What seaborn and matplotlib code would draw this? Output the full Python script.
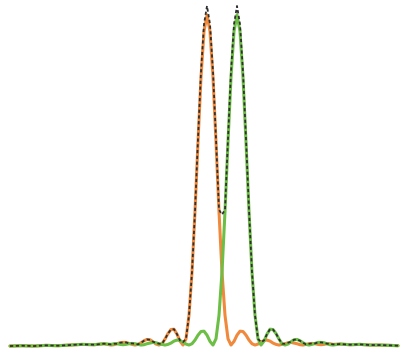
import numpy as np
import pandas as pd
import matplotlib
matplotlib.use("Agg")
import matplotlib.pyplot as plt
import seaborn as sns

# position along the scan (arbitrary units), shared by all three curves
x_left = [10, 22, 34, 46, 58, 70, 82, 94, 104]
x_mid = list(range(111, 334, 3))
x_right = [340, 350, 360, 370, 380, 390, 398]

# outer tails (same for every curve)
tail_left = [-0.003, -0.002, -0.003, -0.001, -0.002, 0.000, 0.002, 0.001, 0.004]
tail_right = [0.003, 0.001, 0.002, 0.000, 0.000, -0.001, -0.002]

# first peak (orange)
peak_a = [
    0.000, 0.001, 0.004, 0.007, 0.008, 0.008, 0.005, 0.002, 0.000, 0.002,
    0.007, 0.013, 0.017, 0.016, 0.010, 0.003, 0.000, 0.004, 0.018, 0.035,
    0.047, 0.048, 0.033, 0.012, 0.000, 0.019, 0.090, 0.221, 0.405, 0.615,
    0.811, 0.950, 1.000, 0.950, 0.811, 0.615, 0.405, 0.221, 0.090, 0.019,
    0.000, 0.011, 0.030, 0.042, 0.041, 0.030, 0.015, 0.004, 0.000, 0.003,
    0.009, 0.014, 0.015, 0.012, 0.006, 0.002, 0.000, 0.002, 0.004, 0.007,
    0.008, 0.006, 0.004, 0.001, 0.000, 0.002, 0.004, 0.005, 0.004, 0.002,
    0.001, 0.002, 0.004, 0.004, 0.002,
]

# second peak (green)
peak_b = [
    0.002, 0.004, 0.004, 0.002, 0.001, 0.002, 0.004, 0.005, 0.004, 0.002,
    0.000, 0.001, 0.004, 0.006, 0.008, 0.007, 0.004, 0.002, 0.000, 0.002,
    0.006, 0.012, 0.015, 0.014, 0.009, 0.003, 0.000, 0.004, 0.015, 0.030,
    0.041, 0.042, 0.030, 0.011, 0.000, 0.019, 0.090, 0.221, 0.405, 0.615,
    0.811, 0.950, 1.000, 0.950, 0.811, 0.615, 0.405, 0.221, 0.090, 0.019,
    0.000, 0.012, 0.033, 0.048, 0.047, 0.035, 0.018, 0.004, 0.000, 0.003,
    0.010, 0.016, 0.017, 0.013, 0.007, 0.002, 0.000, 0.002, 0.005, 0.008,
    0.008, 0.007, 0.004, 0.001, 0.000,
]

# fitted envelope (black dashed)
fit = [
    0.002, 0.004, 0.004, 0.007, 0.008, 0.008, 0.005, 0.005, 0.004, 0.002,
    0.007, 0.013, 0.017, 0.016, 0.010, 0.007, 0.004, 0.004, 0.018, 0.035,
    0.047, 0.048, 0.033, 0.014, 0.009, 0.019, 0.090, 0.221, 0.405, 0.625,
    0.828, 0.972, 1.027, 0.972, 0.828, 0.625, 0.410, 0.395, 0.410, 0.625,
    0.828, 0.972, 1.027, 0.972, 0.828, 0.625, 0.410, 0.221, 0.090, 0.019,
    0.009, 0.014, 0.033, 0.048, 0.047, 0.035, 0.018, 0.004, 0.004, 0.007,
    0.010, 0.016, 0.017, 0.013, 0.007, 0.002, 0.004, 0.005, 0.005, 0.008,
    0.008, 0.007, 0.004, 0.004, 0.002,
]

xs = x_left + x_mid + x_right
df = pd.DataFrame({
    "x": xs,
    "a": tail_left + peak_a + tail_right,
    "b": tail_left + peak_b + tail_right,
    "fit": tail_left + fit + tail_right,
})

sns.set_style("white")
fig = plt.figure(figsize=(4.02, 3.5), dpi=100)
ax = fig.add_axes([0, 0, 1, 1])

sns.lineplot(data=df, x="x", y="a", color="#f0893b", linewidth=2.2, ax=ax)
sns.lineplot(data=df, x="x", y="b", color="#6dbe45", linewidth=2.2, ax=ax)
sns.lineplot(data=df, x="x", y="fit", color="#303030", linewidth=1.3,
             linestyle=(0, (1.8, 1.4)), ax=ax)

ax.set_xlim(0, 402)
ax.set_ylim(-0.015, 1.045)
ax.axis("off")

fig.savefig("out.png", dpi=100)
